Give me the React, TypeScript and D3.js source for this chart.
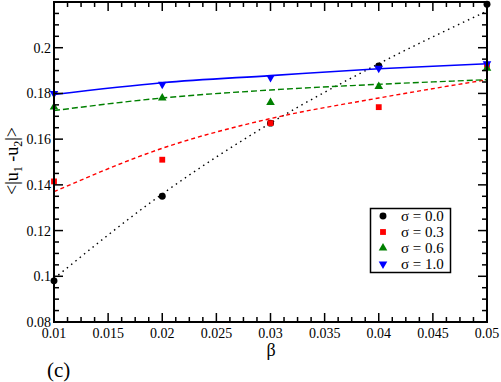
import * as d3 from 'd3';

const betas = [0.01, 0.02, 0.03, 0.04, 0.05];

const sigmaLabels = ['σ = 0.0', 'σ = 0.3', 'σ = 0.6', 'σ = 1.0'];
const colours = ['#000000', '#ff0000', '#008000', '#0000ff'];

// measured points
const points00 = [0.098, 0.135, 0.167, 0.192, 0.219];
const points03 = [0.1415, 0.151, 0.167, 0.174, 0.1925];
const points06 = [0.174, 0.178, 0.176, 0.183, 0.191];
const points10 = [0.180, 0.184, 0.187, 0.191, 0.193];

// fitted curves
const fit00 = [0.099, 0.136, 0.167, 0.193, 0.216];
const fit03 = [0.137, 0.156, 0.169, 0.178, 0.186];
const fit06 = [0.1725, 0.178, 0.1815, 0.184, 0.186];
const fit10 = [0.1795, 0.1847, 0.1878, 0.1908, 0.193];

const yMajor = [0.08, 0.1, 0.12, 0.14, 0.16, 0.18, 0.2];
const xMajor = [0.01, 0.015, 0.02, 0.025, 0.03, 0.035, 0.04, 0.045, 0.05];

const FONT = 'Liberation Serif';

const left = 54, right = 487, top = 2, bottom = 322;
const x = d3.scaleLinear().domain([0.01, 0.05]).range([left, right]);
const y = d3.scaleLinear().domain([0.08, 0.22]).range([bottom, top]);

const xMinor = d3.range(0.01, 0.05001, 0.00125);
const yMinor = d3.range(0.08, 0.22001, 0.005);
const isMajor = (v: number, list: number[]) => list.some(m => Math.abs(m - v) < 1e-6);

const series = [points00, points03, points06, points10];
const fits = [fit00, fit03, fit06, fit10];
const dashes = ['1.5,4', '4,3', '6,3', undefined];
const symbols = [d3.symbolCircle, d3.symbolSquare, d3.symbolTriangle, d3.symbolTriangle];
const sizes = [38, 34, 32, 32];

const line = d3.line<number>()
  .x((_, i) => x(betas[i]))
  .y(d => y(d))
  .curve(d3.curveMonotoneX);

const Marker = ({ k, cx, cy }: { k: number; cx: number; cy: number }) => (
  <path
    d={d3.symbol().type(symbols[k]).size(sizes[k])() || ''}
    transform={`translate(${cx},${cy})${k === 3 ? ' rotate(180)' : ''}`}
    fill={colours[k]}
  />
);

export default function App() {
  return (
    <div style={{ position: 'absolute', left: 0, top: 0 }}>
      <svg width={501} height={382} style={{ display: 'block', fontFamily: FONT }}>
        {fits.map((f, k) => (
          <path key={'f' + k} d={line(f) || ''} fill="none" stroke={colours[k]}
            strokeWidth={k === 3 ? 1.6 : 1.4} strokeDasharray={dashes[k]} />
        ))}
        {series.map((s, k) => s.map((v, i) => (
          <Marker key={`m${k}-${i}`} k={k} cx={x(betas[i])} cy={y(v)} />
        )))}

        <rect x={left} y={top} width={right - left} height={bottom - top}
          fill="none" stroke="#000" strokeWidth={2} />

        <g stroke="#000" strokeWidth={1.5}>
          {xMinor.map((v, i) => {
            const len = isMajor(v, xMajor) ? 9 : 5;
            return (
              <g key={'xt' + i}>
                <line x1={x(v)} x2={x(v)} y1={bottom} y2={bottom - len} />
                <line x1={x(v)} x2={x(v)} y1={top} y2={top + len} />
              </g>
            );
          })}
          {yMinor.map((v, i) => {
            const len = isMajor(v, yMajor.concat([0.22])) ? 9 : 5;
            return (
              <g key={'yt' + i}>
                <line y1={y(v)} y2={y(v)} x1={left} x2={left + len} />
                <line y1={y(v)} y2={y(v)} x1={right} x2={right - len} />
              </g>
            );
          })}
        </g>

        {xMajor.map(d => (
          <text key={'xl' + d} x={x(d)} y={338} textAnchor="middle" fontSize={14}>
            {String(+d.toFixed(3))}
          </text>
        ))}
        {yMajor.map(d => (
          <text key={'yl' + d} x={left - 3} y={y(d) + 5} textAnchor="end" fontSize={14}>
            {String(+d.toFixed(2))}
          </text>
        ))}

        <text x={271} y={356} textAnchor="middle" fontSize={18}>β</text>

        <text transform="translate(18,161) rotate(-90)" textAnchor="middle" fontSize={18}>
          <tspan>{'<|u'}</tspan>
          <tspan fontSize={12} dy={4}>1</tspan>
          <tspan dy={-4}>{' -u'}</tspan>
          <tspan fontSize={12} dy={4}>2</tspan>
          <tspan dy={-4}>{'|>'}</tspan>
        </text>

        <text x={47} y={377} fontSize={21}>(c)</text>

        <g>
          <rect x={370.5} y={208.5} width={80} height={64} fill="#fff" stroke="#000" strokeWidth={1.5} />
          {sigmaLabels.map((lab, k) => {
            const cy = 216 + k * 16;
            return (
              <g key={'lg' + k}>
                <Marker k={k} cx={383} cy={cy} />
                <text x={401} y={cy + 5} fontSize={15}>{lab}</text>
              </g>
            );
          })}
        </g>
      </svg>
    </div>
  );
}
